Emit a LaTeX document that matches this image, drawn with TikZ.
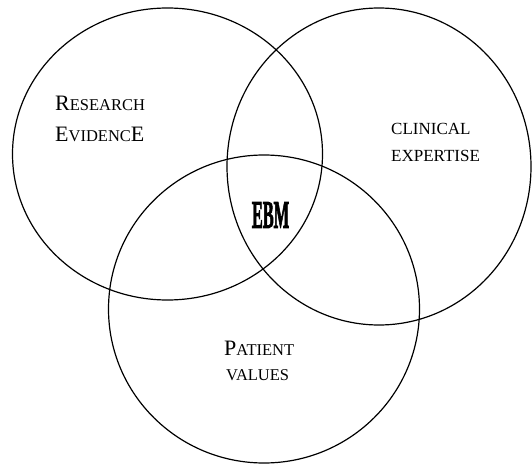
\documentclass[tikz,border=0pt]{standalone}
\usepackage{fontspec}
\setmainfont{Liberation Serif}
\newfontfamily\ebmfont[FakeBold=3]{Liberation Serif Bold}
\newcommand{\smcap}[1]{{\fontsize{16.5}{18}\selectfont #1}}
\tikzset{
	ring/.style={line width=1.2pt, black},
	caption/.style={anchor=base west, inner sep=0pt, font=\fontsize{22}{24}\selectfont}
}
\begin{document}
\begin{tikzpicture}[x=1pt, y=-1pt]
\useasboundingbox (0, 0) rectangle (532, 465);

% the three sets
\draw[ring] (167.5, 154) ellipse (155 and 146);
\draw[ring] (379, 166.5) ellipse (152 and 158.5);
\draw[ring] (264, 309) ellipse (155.5 and 154);

\node[caption] (research) at (55, 111) {R\smcap{ESEARCH}};
\node[caption] (evidence) at (55, 142) {E\smcap{VIDENC}E};
\node[caption, font=\fontsize{17}{19}\selectfont] (clinical) at (391, 135) {CLINICAL};
\node[caption, font=\fontsize{17}{19}\selectfont] (expertise) at (391, 161) {EXPERTISE};
\node[caption] (patient) at (224, 355) {P\smcap{ATIENT}};
\node[caption] (values) at (226, 380) {\smcap{VALUES}};

\node[inner sep=0pt] (ebm) at (270.5, 215) {\scalebox{0.42}[1]{\fontsize{39}{40}\ebmfont EBM}};

\end{tikzpicture}
\end{document}
